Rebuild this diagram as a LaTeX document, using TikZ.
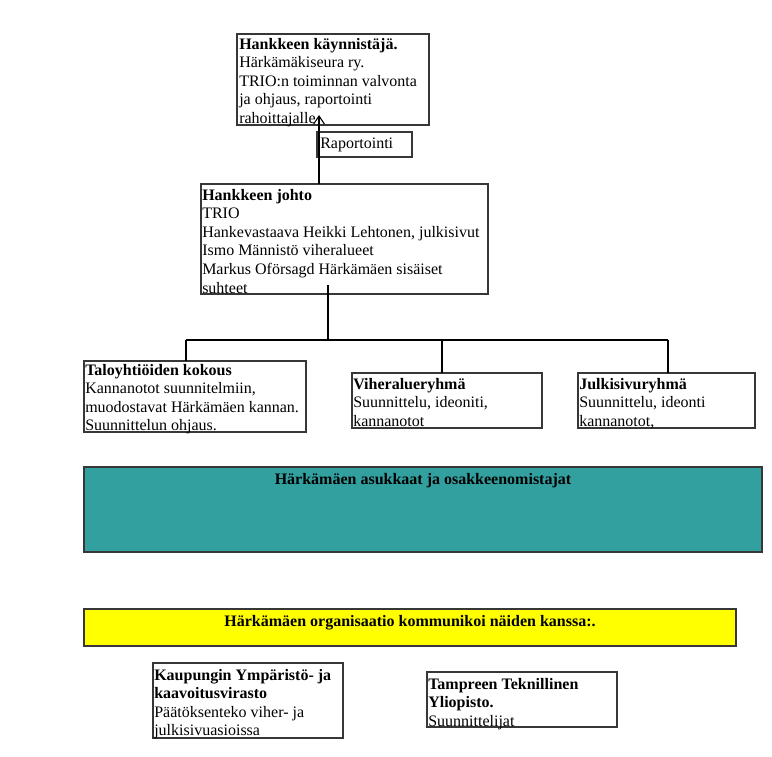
\documentclass[tikz,border=0pt]{standalone}
\usepackage{fontspec}
\setmainfont{Liberation Serif}
\usetikzlibrary{arrows.meta}
\definecolor{tealbox}{RGB}{51,160,160}
\definecolor{yellowbox}{RGB}{255,255,0}
\definecolor{edge}{RGB}{55,55,55}
\tikzset{
  box/.style={draw=edge, line width=0.8pt, inner sep=0pt, outer sep=0pt, anchor=north west},
  txt/.style={anchor=north west, inner sep=0pt, align=left, font=\fontsize{12}{13.9}\selectfont},
  ttl/.style={anchor=north, inner sep=0pt, font=\fontsize{12}{13.9}\selectfont\bfseries},
  conn/.style={draw=black, line width=0.8pt},
}
\begin{document}
\begin{tikzpicture}[x=0.75pt,y=-0.75pt]
\useasboundingbox (0,0) rectangle (772,757);

% top box
\node[box, minimum width={192*0.75pt}, minimum height={91*0.75pt}] (start) at (237,34) {};
\node[txt] (starttxt) at (239,38) {\textbf{Hankkeen käynnistäjä.}\\Härkämäkiseura ry.\\TRIO:n toiminnan valvonta\\ja ohjaus, raportointi\\rahoittajalle};

% Raportointi label box
\node[box, minimum width={95*0.75pt}, minimum height={25*0.75pt}] (rap) at (317,132) {};
\node[txt] (raptxt) at (320,138) {Raportointi};

% Hankkeen johto
\node[box, minimum width={287*0.75pt}, minimum height={110*0.75pt}] (johto) at (201,184) {};
\node[txt] (johtotxt) at (202,189) {\textbf{Hankkeen johto}\\TRIO\\Hankevastaava Heikki Lehtonen, julkisivut\\Ismo Männistö viheralueet\\Markus Oförsagd Härkämäen sisäiset\\suhteet};

\coordinate (arrowtip) at (319,115);
\coordinate (arrowfoot) at (319,184);
\draw[conn, -{Straight Barb[length=6pt,width=8pt]}] (arrowfoot) -- (arrowtip);

% sub boxes
\node[box, minimum width={222*0.75pt}, minimum height={71*0.75pt}] (talo) at (84,361) {};
\node[txt] (talotxt) at (85,364) {\textbf{Taloyhtiöiden kokous}\\Kannanotot suunnitelmiin,\\muodostavat Härkämäen kannan.\\Suunnittelun ohjaus.};

\node[box, minimum width={190*0.75pt}, minimum height={55*0.75pt}] (vihe) at (352,373) {};
\node[txt] (vihetxt) at (353,378) {\textbf{Viheralueryhmä}\\Suunnittelu, ideoniti,\\kannanotot};

\node[box, minimum width={177*0.75pt}, minimum height={55*0.75pt}] (julk) at (578,373) {};
\node[txt] (julktxt) at (579,378) {\textbf{Julkisivuryhmä}\\Suunnittelu, ideonti\\kannanotot,};

% connectors
\coordinate (jfoot) at (328,285);
\coordinate (bus) at (328,340);
\coordinate (busL) at (186,340);
\coordinate (busM) at (442,340);
\coordinate (busR) at (668,340);
\draw[conn] (jfoot) -- (bus);
\draw[conn] (busL) -- (busR);
\draw[conn] (busL) -- (busL |- talo.north);
\draw[conn] (busM) -- (busM |- vihe.north);
\draw[conn] (busR) -- (busR |- julk.north);

% teal band
\node[box, fill=tealbox, minimum width={678*0.75pt}, minimum height={85*0.75pt}] (asuk) at (84,467) {};
\node[ttl] (asuktxt) at ([yshift=-4.5pt]asuk.north) {Härkämäen asukkaat ja osakkeenomistajat};

% yellow band
\node[box, fill=yellowbox, minimum width={652*0.75pt}, minimum height={37*0.75pt}] (org) at (84,609) {};
\node[ttl] (orgtxt) at ([yshift=-4.5pt]org.north) {Härkämäen organisaatio kommunikoi näiden kanssa:.};

% bottom boxes
\node[box, minimum width={190*0.75pt}, minimum height={75*0.75pt}] (kaup) at (153,663) {};
\node[txt] (kauptxt) at (154,669) {\textbf{Kaupungin Ympäristö- ja}\\\textbf{kaavoitusvirasto}\\Päätöksenteko viher- ja\\julkisivuasioissa};

\node[box, minimum width={190*0.75pt}, minimum height={55*0.75pt}] (ttyl) at (427,672) {};
\node[txt] (ttyltxt) at (428,678) {\textbf{Tampreen Teknillinen}\\\textbf{Yliopisto.}\\Suunnittelijat};
\end{tikzpicture}
\end{document}
